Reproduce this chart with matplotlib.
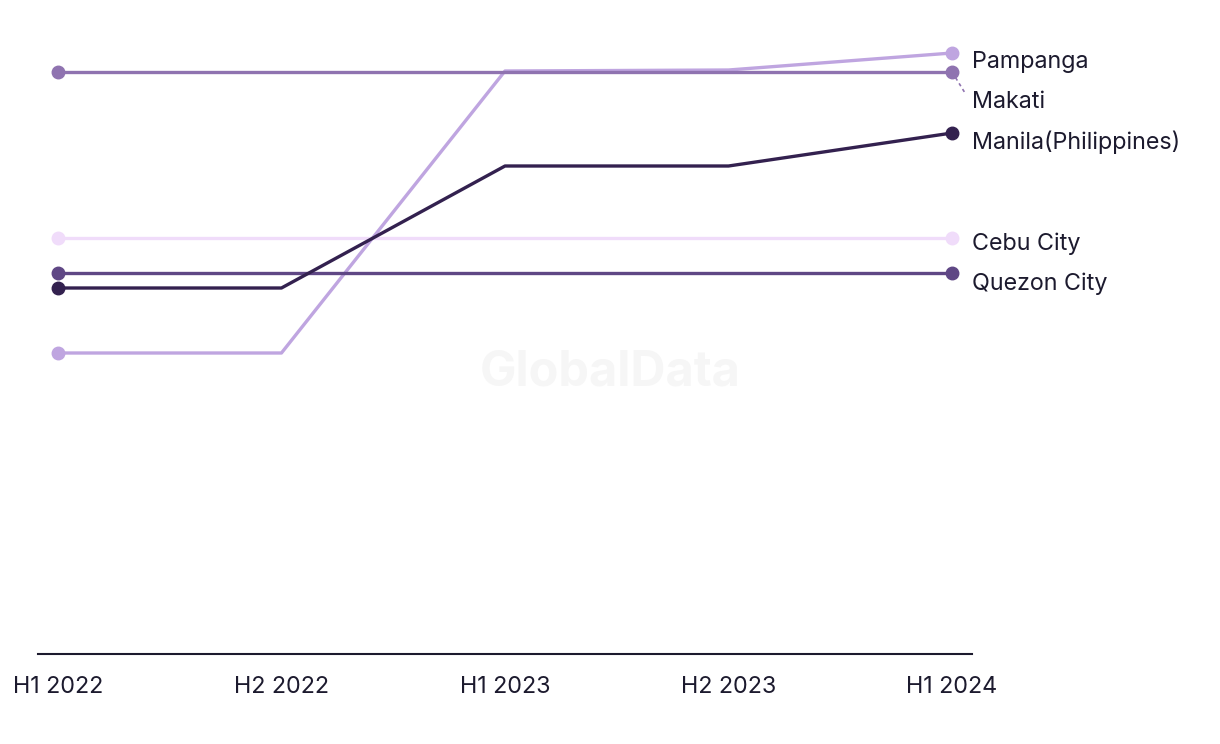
import matplotlib.pyplot as plt

periods = ['H1 2022', 'H2 2022', 'H1 2023', 'H2 2023', 'H1 2024']

# values (relative scale, no y axis shown)
pampanga = [301, 301, 583, 584, 601]
makati = [582, 582, 582, 582, 582]
manila = [366, 366, 488, 488, 521]
cebu = [416, 416, 416, 416, 416]
quezon = [381, 381, 381, 381, 381]

series = [
    ('Cebu City', cebu, '#f0dcfa'),
    ('Pampanga', pampanga, '#bfa5e0'),
    ('Quezon City', quezon, '#5f4785'),
    ('Makati', makati, '#8f73b0'),
    ('Manila(Philippines)', manila, '#33214f'),
]

# label y positions (data units) so labels don't overlap
label_y = {'Pampanga': 592, 'Makati': 552, 'Manila(Philippines)': 512,
           'Cebu City': 410, 'Quezon City': 370}

fig = plt.figure(figsize=(12.2, 7.44), dpi=100)
ax = fig.add_axes([38/1220, 90/744, (972-38)/1220, (654-20)/744])

x = list(range(len(periods)))
for name, vals, col in series:
    ax.plot(x, vals, color=col, lw=2.4, marker='o', markersize=9,
            markevery=[0, len(x)-1], solid_capstyle='round', zorder=3)
    ax.text(4.09, label_y[name], name, fontsize=16.8, color='#1c1a2e',
            va='center', ha='left', family='Inter', clip_on=False)

# connector for the shifted Makati label
ax.plot([4.0, 4.055], [makati[-1], makati[-1] - 20], color='#8f73b0',
        lw=1.2, ls=(0, (2, 2)), clip_on=False)

fig.text(0.5, 1 - 373/744, 'GlobalData', fontsize=35,
         fontweight='bold', color='#f6f6f6', ha='center', va='center',
         family='Inter', zorder=0)

ax.set_xlim(-0.089, 4.089)
ax.set_ylim(0, 634)
ax.set_xticks(x)
ax.set_xticklabels(periods, fontsize=16.8, color='#1c1a2e', family='Inter')
ax.tick_params(axis='x', length=0, pad=16)
ax.set_yticks([])
for s in ['top', 'right', 'left']:
    ax.spines[s].set_visible(False)
ax.spines['bottom'].set_color('#1c1a2e')
ax.spines['bottom'].set_linewidth(1.5)

fig.savefig('out.png', dpi=100)
